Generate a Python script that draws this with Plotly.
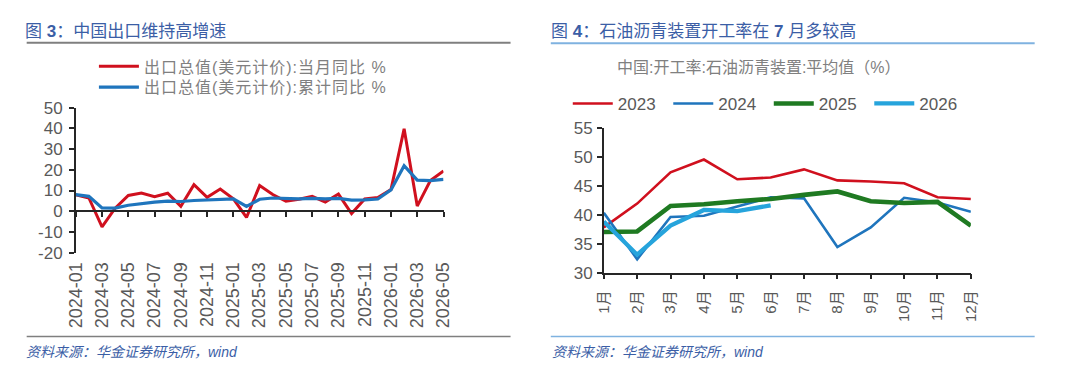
import plotly.graph_objects as go

W, H = 1080, 374

# ---------------- data: left chart (China exports, % yoy) ----------------
months_left = ["2024-01", "2024-02", "2024-03", "2024-04", "2024-05", "2024-06",
               "2024-07", "2024-08", "2024-09", "2024-10", "2024-11", "2024-12",
               "2025-01", "2025-02", "2025-03", "2025-04", "2025-05", "2025-06",
               "2025-07", "2025-08", "2025-09", "2025-10", "2025-11", "2025-12",
               "2026-01", "2026-02", "2026-03", "2026-04", "2026-05"]
export_monthly = [7.9, 6.4, -7.5, 1.5, 7.6, 8.8, 7.0, 8.7, 2.4, 12.8, 6.7, 10.7,
                  6.0, -3.0, 12.4, 8.1, 4.8, 5.8, 7.2, 4.4, 8.3, -1.1, 5.9, 6.6,
                  10.5, 39.8, 2.5, 14.8, 19.4]
export_cum = [8.0, 7.2, 1.6, 1.5, 2.9, 3.8, 4.4, 4.9, 4.7, 5.2, 5.4, 5.9,
              6.0, 2.3, 5.8, 6.4, 6.2, 6.0, 6.2, 6.0, 6.2, 5.4, 5.5, 5.9,
              10.3, 22.0, 15.0, 14.8, 15.4]
left_tick_labels = ["2024-01", "2024-03", "2024-05", "2024-07", "2024-09", "2024-11",
                    "2025-01", "2025-03", "2025-05", "2025-07", "2025-09", "2025-11",
                    "2026-01", "2026-03", "2026-05"]
left_y_ticks = [-20, -10, 0, 10, 20, 30, 40, 50]
left_y_labels = ["-20", "-10", "0", "10", "20", "30", "40", "50"]
left_names = ["出口总值(美元计价):当月同比 %", "出口总值(美元计价):累计同比 %"]

# ---------------- data: right chart (asphalt utilisation, %) ----------------
months_right = ["1月", "2月", "3月", "4月", "5月", "6月", "7月", "8月", "9月", "10月", "11月", "12月"]
rate_2023 = [37.8, 41.9, 47.3, 49.5, 46.1, 46.4, 47.8, 45.9, 45.7, 45.4, 43.0, 42.7]
rate_2024 = [40.3, 32.3, 39.6, 39.8, 41.4, 43.0, 42.8, 34.4, 37.8, 42.9, 42.1, 40.5]
rate_2025 = [37.0, 37.1, 41.5, 41.8, 42.3, 42.7, 43.4, 44.0, 42.3, 42.0, 42.2, 38.1]
rate_2026 = [38.8, 33.1, 38.1, 40.8, 40.6, 41.6]
right_years = ["2023", "2024", "2025", "2026"]

# ---------------- styling ----------------
FONT = "Liberation Sans, Arial, Noto Sans CJK SC, sans-serif"
TITLE_BLUE = "#3b5ea6"
TICK_GRAY = "#595959"
AXIS_COLOR = "#262626"
RED = "#d0101e"
BLUE = "#1f75bd"
GREEN = "#1f7a22"
LIGHTBLUE = "#26a4dc"


def px_x(p):
    return p / W


def px_y(p):
    return 1 - p / H


# left plot area (pixels)
L_X0, L_X1 = 67, 441.7
L_YTOP, L_YBOT = 104, 256.7
# right plot area
R_X0, R_X1 = 605, 979
R_YTOP, R_YBOT = 125, 277.7

left_ydom = [px_y(L_YBOT), px_y(L_YTOP)]
zero_pos = left_ydom[0] + (0 - (-20)) / 70 * (left_ydom[1] - left_ydom[0])

idx_left = list(range(len(months_left)))
idx_right = list(range(len(months_right)))
tick_idx_left = [months_left.index(t) for t in left_tick_labels]

fig = go.Figure()

# red series on the bottom (label) axis, blue on the overlaid zero-line axis
fig.add_trace(go.Scatter(x=idx_left, y=export_monthly, mode="lines",
                         line=dict(color=RED, width=3),
                         name='<span style="letter-spacing:1px">' + left_names[0] + "</span>",
                         xaxis="x", yaxis="y", legend="legend"))
fig.add_trace(go.Scatter(x=idx_left, y=export_cum, mode="lines",
                         line=dict(color=BLUE, width=3.2),
                         name='<span style="letter-spacing:1px">' + left_names[1] + "</span>",
                         xaxis="x3", yaxis="y", legend="legend3"))

right_series = [rate_2023, rate_2024, rate_2025, rate_2026]
right_colors = [RED, BLUE, GREEN, LIGHTBLUE]
right_widths = [2.6, 2.6, 4.6, 4.2]
for name, vals, col, w in zip(right_years, right_series, right_colors, right_widths):
    fig.add_trace(go.Scatter(x=idx_right[:len(vals)], y=vals, mode="lines",
                             line=dict(color=col, width=w), name=name,
                             xaxis="x2", yaxis="y2", legend="legend2"))

left_legend_style = dict(xanchor="left", yanchor="middle", orientation="v",
                         bgcolor="rgba(0,0,0,0)", itemwidth=40,
                         font=dict(size=16, color="#808080"))

fig.update_layout(
    width=W, height=H, autosize=False,
    margin=dict(l=0, r=0, t=0, b=0),
    paper_bgcolor="white", plot_bgcolor="white",
    font=dict(family=FONT, color=TICK_GRAY),
    # left axis with the date labels at the bottom
    xaxis=dict(domain=[px_x(L_X0), px_x(L_X1)], range=[0, len(months_left) - 1],
               anchor="y", side="bottom",
               tickvals=tick_idx_left, ticktext=left_tick_labels,
               tickangle=-90, tickfont=dict(size=18, color=TICK_GRAY),
               showline=False, ticks="", showgrid=False, zeroline=False,
               ticklabelstandoff=5),
    # overlaid axis whose line sits on the zero line
    xaxis3=dict(overlaying="x", range=[0, len(months_left) - 1],
                anchor="free", position=zero_pos,
                showline=True, linecolor=AXIS_COLOR, linewidth=1.5,
                ticks="outside", ticklen=5, tickwidth=1.5, tickcolor=AXIS_COLOR,
                tickvals=tick_idx_left, showticklabels=False,
                showgrid=False, zeroline=False),
    yaxis=dict(domain=left_ydom, range=[-20, 50], anchor="x",
               tickvals=left_y_ticks, ticktext=left_y_labels,
               showline=True, linecolor=AXIS_COLOR, linewidth=1.5,
               ticks="outside", ticklen=5, tickwidth=1.5, tickcolor=AXIS_COLOR,
               tickfont=dict(size=17, color=TICK_GRAY), ticklabelstandoff=3,
               showgrid=False, zeroline=False),
    xaxis2=dict(domain=[px_x(R_X0), px_x(R_X1)], range=[0, 11], anchor="y2",
                tickvals=idx_right, ticktext=months_right, tickangle=-90,
                tickfont=dict(size=15, color=TICK_GRAY),
                showline=True, linecolor=AXIS_COLOR, linewidth=1.5,
                ticks="outside", ticklen=5, tickwidth=1.5, tickcolor=AXIS_COLOR,
                showgrid=False, zeroline=False, ticklabelstandoff=5),
    yaxis2=dict(domain=[px_y(R_YBOT), px_y(R_YTOP)], range=[30, 55], anchor="x2",
                dtick=5, showline=True, linecolor=AXIS_COLOR, linewidth=1.5,
                ticks="outside", ticklen=5, tickwidth=1.5, tickcolor=AXIS_COLOR,
                tickfont=dict(size=17, color=TICK_GRAY), ticklabelstandoff=1,
                showgrid=False, zeroline=False),
    legend=dict(x=px_x(85.5), y=px_y(60.5), **left_legend_style),
    legend3=dict(x=px_x(85.5), y=px_y(82.5), **left_legend_style),
    legend2=dict(x=px_x(568.3), y=px_y(100), xanchor="left", yanchor="middle",
                 orientation="h", bgcolor="rgba(0,0,0,0)",
                 font=dict(size=17, color=TICK_GRAY), itemwidth=40,
                 entrywidth=45.5, entrywidthmode="pixels"),
    showlegend=True,
)

annotations = [
    dict(text="图 <b>3</b>：中国出口维持高增速", x=px_x(13), y=px_y(24),
         font=dict(size=17, color=TITLE_BLUE)),
    dict(text="图 <b>4</b>：石油沥青装置开工率在 <b>7</b> 月多较高", x=px_x(549), y=px_y(24),
         font=dict(size=17, color=TITLE_BLUE)),
    dict(text="中国:开工率:石油沥青装置:平均值（%）", x=px_x(616), y=px_y(62),
         font=dict(size=16, color="#808080")),
    dict(text="<i>资料来源：华金证券研究所，wind</i>", x=px_x(14), y=px_y(361),
         font=dict(size=14, color=TITLE_BLUE)),
    dict(text="<i>资料来源：华金证券研究所，wind</i>", x=px_x(550), y=px_y(361),
         font=dict(size=14, color=TITLE_BLUE)),
]
for a in annotations:
    a.update(xref="paper", yref="paper", xanchor="left", yanchor="middle",
             showarrow=False)
fig.update_layout(annotations=annotations)

shapes = [
    dict(x0=px_x(17), x1=px_x(510), y0=px_y(35.5), y1=px_y(35.5), line=dict(color="#7f7f7f", width=2)),
    dict(x0=px_x(551), x1=px_x(1044), y0=px_y(36), y1=px_y(36), line=dict(color="#7fb2e0", width=2)),
    dict(x0=px_x(17), x1=px_x(510), y0=px_y(345), y1=px_y(345), line=dict(color="#7f7f7f", width=1.5)),
    dict(x0=px_x(551), x1=px_x(1044), y0=px_y(345), y1=px_y(345), line=dict(color="#7fb2e0", width=1.5)),
]
for s in shapes:
    s.update(type="line", xref="paper", yref="paper")
fig.update_layout(shapes=shapes)

fig.write_html("out.html")
